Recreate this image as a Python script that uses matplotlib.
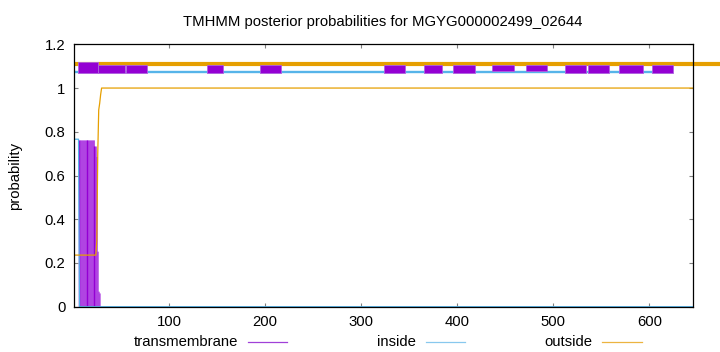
import numpy as np
import matplotlib
matplotlib.use("Agg")
import matplotlib.pyplot as plt
from matplotlib.lines import Line2D

plt.rcParams['font.family'] = ['Liberation Sans', 'DejaVu Sans']

# ---------------- data ----------------
title = "TMHMM posterior probabilities for MGYG000002499_02644"
seq_length = 645
x_ticks = [100, 200, 300, 400, 500, 600]
y_ticks = [0, 0.2, 0.4, 0.6, 0.8, 1.0, 1.2]
y_tick_labels = ["0", "0.2", "0.4", "0.6", "0.8", "1", "1.2"]
legend_labels = ["transmembrane", "inside", "outside"]

# per-residue posteriors for the N-terminal part (residues 1..30); rest is constant
tm_head = [0, 0, 0, 0, 0, 0,
           0.763, 0.763, 0.763, 0.763, 0.763, 0.763, 0.763, 0.763,
           0.763, 0.763, 0.763, 0.763, 0.763, 0.763, 0.763, 0.763,
           0.735, 0.735, 0.687, 0.254, 0.071, 0.063, 0, 0]
inside_head = [0.766, 0.766, 0.766, 0.766, 0.766, 0.766,
               0, 0, 0, 0, 0, 0, 0, 0, 0, 0, 0, 0, 0, 0, 0, 0, 0, 0,
               0, 0, 0, 0, 0, 0]
outside_head = [0.236, 0.236, 0.236, 0.236, 0.236, 0.236, 0.236, 0.236,
                0.236, 0.236, 0.236, 0.236, 0.236, 0.236, 0.236, 0.236,
                0.236, 0.236, 0.236, 0.236, 0.236, 0.236, 0.236, 0.236,
                0.30, 0.70, 0.90, 0.93, 0.97, 1.0]
tm_tail_value = 0.0
inside_tail_value = 0.0
outside_tail_value = 1.0

# topology track at the top
tm_segments = [(5.4, 26.2), (26.2, 54.3), (55.7, 77.5), (139.2, 156.5),
               (194.3, 216.8), (323.5, 345.3), (365.1, 384.5), (395.9, 418.5),
               (436.2, 458.6), (471.5, 493.3), (512.4, 534.2), (536.0, 558.1),
               (568.5, 593.1), (603.1, 625.0)]
tm_segment_kind = ["tall", "full", "full", "full", "full", "full", "full", "full",
                   "thin", "thin", "full", "full", "full", "full"]
inside_track = (1, 625)
outside_track = (1, 680)

# ---------------- build series ----------------
n_head = len(tm_head)
residues = np.arange(1, seq_length + 1)
tm = np.concatenate([tm_head, np.full(seq_length - n_head, tm_tail_value)])
inside = np.concatenate([inside_head, np.full(seq_length - n_head, inside_tail_value)])
outside = np.concatenate([outside_head, np.full(seq_length - n_head, outside_tail_value)])

PURPLE = '#9400d3'
PURPLE_FILL = '#b044e2'
CYAN = '#56b4e9'
ORANGE = '#e69f00'

fig = plt.figure(figsize=(7.2, 3.52), dpi=100)
ax = fig.add_axes([0.1024, 0.1287, 0.8597, 0.7454])

# transmembrane impulses
ax.fill_between(residues, tm, step='mid', color=PURPLE_FILL, lw=0, zorder=2)
nz = residues[tm > 0]
stripes = nz[::8]
ax.vlines(stripes - 0.5, 0, tm[stripes - 1], color=PURPLE, lw=1.0, zorder=2.5)

# inside / outside posterior lines
ax.plot(residues, inside, color=CYAN, lw=0.9, zorder=3)
ax.plot(residues, outside, color=ORANGE, lw=0.9, zorder=3)

# top topology track
ax.plot(outside_track, [1.112, 1.112], color=ORANGE, lw=3.0,
        solid_capstyle='butt', clip_on=False, zorder=2)
ax.plot(inside_track, [1.074, 1.074], color=CYAN, lw=1.7,
        solid_capstyle='butt', zorder=2)
kind_span = {"tall": (1.069, 0.048), "full": (1.069, 0.035), "thin": (1.079, 0.025)}
for (s, e), k in zip(tm_segments, tm_segment_kind):
    ax.broken_barh([(s, e - s)], kind_span[k], facecolor=PURPLE,
                   edgecolor='#b060e0', lw=0.6, zorder=4)

ax.set_xlim(1, seq_length)
ax.set_ylim(0, 1.2)
ax.set_xticks(x_ticks)
ax.set_yticks(y_ticks)
ax.set_yticklabels(y_tick_labels)
ax.tick_params(direction='in', length=2.7, width=0.8, color='#808080',
               top=True, right=True, labelsize=10.7, pad=6)
for sp in ax.spines.values():
    sp.set_linewidth(0.9)
    sp.set_color('black')
    sp.set_zorder(5)

ax.set_ylabel("probability", fontsize=10.7, labelpad=14)
ax.yaxis.set_label_coords(-0.083, 0.5)
fig.text(0.532, 1 - 22 / 352, title, ha='center', va='center', fontsize=10.7)

# legend, gnuplot-style: text then line sample
legend_colors = ['#a040d8', '#88c8ee', '#ecb440']
text_right_px = [238, 416, 592]
line_px = [(248, 287), (426, 465), (602, 642)]
ly = 1 - 341.5 / 352
for lab, c, tr, (l0, l1) in zip(legend_labels, legend_colors, text_right_px, line_px):
    fig.text(tr / 720, ly, lab, ha='right', va='center', fontsize=10.7)
    fig.add_artist(Line2D([l0 / 720, l1 / 720], [ly, ly], color=c, lw=0.9,
                          transform=fig.transFigure))

fig.savefig("out.png", dpi=100)
